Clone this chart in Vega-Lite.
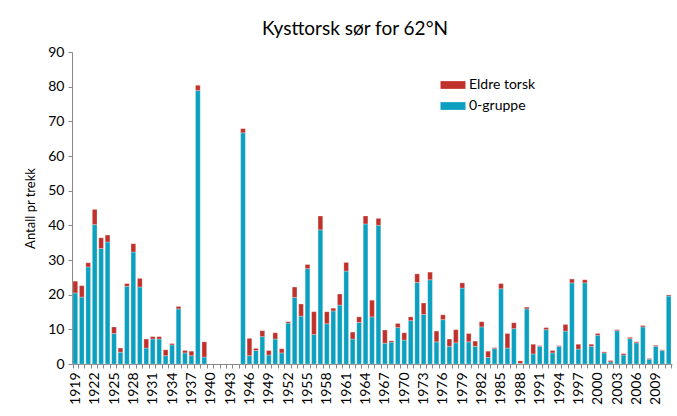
{
  "$schema": "https://vega.github.io/schema/vega-lite/v6.json",
  "autosize": {"type": "none"},
  "width": 600,
  "height": 312,
  "padding": {"left": 72, "top": 52, "right": 5, "bottom": 52},
  "background": "white",
  "title": {"text": "Kysttorsk sør for 62°N", "fontSize": 19, "font": "Lato", "fontWeight": "normal", "color": "#000000", "offset": 6, "dx": -17},
  "data": {"values": [
    {"year": 1919, "0-gruppe": 20.5, "Eldre torsk": 3.4},
    {"year": 1920, "0-gruppe": 19.3, "Eldre torsk": 3.3},
    {"year": 1921, "0-gruppe": 28.0, "Eldre torsk": 1.2},
    {"year": 1922, "0-gruppe": 40.2, "Eldre torsk": 4.4},
    {"year": 1923, "0-gruppe": 33.3, "Eldre torsk": 3.1},
    {"year": 1924, "0-gruppe": 35.2, "Eldre torsk": 2.0},
    {"year": 1925, "0-gruppe": 8.8, "Eldre torsk": 1.9},
    {"year": 1926, "0-gruppe": 3.4, "Eldre torsk": 1.2},
    {"year": 1927, "0-gruppe": 22.4, "Eldre torsk": 0.8},
    {"year": 1928, "0-gruppe": 32.3, "Eldre torsk": 2.4},
    {"year": 1929, "0-gruppe": 22.2, "Eldre torsk": 2.5},
    {"year": 1930, "0-gruppe": 4.6, "Eldre torsk": 2.6},
    {"year": 1931, "0-gruppe": 7.2, "Eldre torsk": 0.7},
    {"year": 1932, "0-gruppe": 7.2, "Eldre torsk": 0.7},
    {"year": 1933, "0-gruppe": 2.4, "Eldre torsk": 1.7},
    {"year": 1934, "0-gruppe": 5.5, "Eldre torsk": 0.4},
    {"year": 1935, "0-gruppe": 15.9, "Eldre torsk": 0.7},
    {"year": 1936, "0-gruppe": 3.2, "Eldre torsk": 0.7},
    {"year": 1937, "0-gruppe": 2.4, "Eldre torsk": 1.3},
    {"year": 1938, "0-gruppe": 78.9, "Eldre torsk": 1.5},
    {"year": 1939, "0-gruppe": 2.0, "Eldre torsk": 4.4},
    {"year": 1945, "0-gruppe": 66.7, "Eldre torsk": 1.2},
    {"year": 1946, "0-gruppe": 2.4, "Eldre torsk": 5.0},
    {"year": 1947, "0-gruppe": 3.9, "Eldre torsk": 0.6},
    {"year": 1948, "0-gruppe": 7.9, "Eldre torsk": 1.7},
    {"year": 1949, "0-gruppe": 2.6, "Eldre torsk": 1.3},
    {"year": 1950, "0-gruppe": 7.2, "Eldre torsk": 1.8},
    {"year": 1951, "0-gruppe": 3.2, "Eldre torsk": 1.2},
    {"year": 1952, "0-gruppe": 11.8, "Eldre torsk": 0.4},
    {"year": 1953, "0-gruppe": 19.2, "Eldre torsk": 3.0},
    {"year": 1954, "0-gruppe": 13.8, "Eldre torsk": 3.5},
    {"year": 1955, "0-gruppe": 27.5, "Eldre torsk": 1.2},
    {"year": 1956, "0-gruppe": 8.5, "Eldre torsk": 6.6},
    {"year": 1957, "0-gruppe": 38.7, "Eldre torsk": 4.0},
    {"year": 1958, "0-gruppe": 11.6, "Eldre torsk": 3.5},
    {"year": 1959, "0-gruppe": 15.3, "Eldre torsk": 0.8},
    {"year": 1960, "0-gruppe": 17.0, "Eldre torsk": 3.2},
    {"year": 1961, "0-gruppe": 26.8, "Eldre torsk": 2.5},
    {"year": 1962, "0-gruppe": 7.2, "Eldre torsk": 2.0},
    {"year": 1963, "0-gruppe": 12.0, "Eldre torsk": 1.6},
    {"year": 1964, "0-gruppe": 40.4, "Eldre torsk": 2.3},
    {"year": 1965, "0-gruppe": 13.6, "Eldre torsk": 4.8},
    {"year": 1966, "0-gruppe": 40.0, "Eldre torsk": 2.0},
    {"year": 1967, "0-gruppe": 6.0, "Eldre torsk": 3.8},
    {"year": 1968, "0-gruppe": 6.3, "Eldre torsk": 0.4},
    {"year": 1969, "0-gruppe": 10.5, "Eldre torsk": 1.2},
    {"year": 1970, "0-gruppe": 6.9, "Eldre torsk": 2.1},
    {"year": 1971, "0-gruppe": 12.5, "Eldre torsk": 1.1},
    {"year": 1972, "0-gruppe": 23.5, "Eldre torsk": 2.5},
    {"year": 1973, "0-gruppe": 14.3, "Eldre torsk": 3.3},
    {"year": 1974, "0-gruppe": 24.3, "Eldre torsk": 2.2},
    {"year": 1975, "0-gruppe": 6.4, "Eldre torsk": 3.1},
    {"year": 1976, "0-gruppe": 12.8, "Eldre torsk": 1.4},
    {"year": 1977, "0-gruppe": 5.1, "Eldre torsk": 2.1},
    {"year": 1978, "0-gruppe": 6.1, "Eldre torsk": 3.8},
    {"year": 1979, "0-gruppe": 21.9, "Eldre torsk": 1.5},
    {"year": 1980, "0-gruppe": 6.4, "Eldre torsk": 2.4},
    {"year": 1981, "0-gruppe": 5.1, "Eldre torsk": 1.5},
    {"year": 1982, "0-gruppe": 10.7, "Eldre torsk": 1.5},
    {"year": 1983, "0-gruppe": 1.9, "Eldre torsk": 1.8},
    {"year": 1984, "0-gruppe": 4.4, "Eldre torsk": 0.3},
    {"year": 1985, "0-gruppe": 21.7, "Eldre torsk": 1.5},
    {"year": 1986, "0-gruppe": 4.6, "Eldre torsk": 4.2},
    {"year": 1987, "0-gruppe": 10.2, "Eldre torsk": 1.7},
    {"year": 1988, "0-gruppe": 0.2, "Eldre torsk": 0.7},
    {"year": 1989, "0-gruppe": 15.9, "Eldre torsk": 0.5},
    {"year": 1990, "0-gruppe": 2.9, "Eldre torsk": 2.8},
    {"year": 1991, "0-gruppe": 5.1, "Eldre torsk": 0.2},
    {"year": 1992, "0-gruppe": 9.9, "Eldre torsk": 0.6},
    {"year": 1993, "0-gruppe": 3.2, "Eldre torsk": 0.7},
    {"year": 1994, "0-gruppe": 5.1, "Eldre torsk": 0.2},
    {"year": 1995, "0-gruppe": 9.5, "Eldre torsk": 1.9},
    {"year": 1996, "0-gruppe": 23.4, "Eldre torsk": 1.1},
    {"year": 1997, "0-gruppe": 4.3, "Eldre torsk": 1.4},
    {"year": 1998, "0-gruppe": 23.4, "Eldre torsk": 0.9},
    {"year": 1999, "0-gruppe": 5.1, "Eldre torsk": 0.6},
    {"year": 2000, "0-gruppe": 8.3, "Eldre torsk": 0.5},
    {"year": 2001, "0-gruppe": 3.2, "Eldre torsk": 0.3},
    {"year": 2002, "0-gruppe": 0.6, "Eldre torsk": 0.4},
    {"year": 2003, "0-gruppe": 9.6, "Eldre torsk": 0.3},
    {"year": 2004, "0-gruppe": 2.6, "Eldre torsk": 0.4},
    {"year": 2005, "0-gruppe": 7.3, "Eldre torsk": 0.4},
    {"year": 2006, "0-gruppe": 6.1, "Eldre torsk": 0.3},
    {"year": 2007, "0-gruppe": 10.7, "Eldre torsk": 0.4},
    {"year": 2008, "0-gruppe": 1.4, "Eldre torsk": 0.2},
    {"year": 2009, "0-gruppe": 5.1, "Eldre torsk": 0.3},
    {"year": 2010, "0-gruppe": 3.9, "Eldre torsk": 0.2},
    {"year": 2011, "0-gruppe": 19.6, "Eldre torsk": 0.3}
  ]},
  "transform": [{"fold": ["0-gruppe", "Eldre torsk"], "as": ["gruppe", "antall"]}],
  "mark": {"type": "bar", "stroke": "#ffffff", "strokeOpacity": 0.45, "strokeWidth": 0.6},
  "encoding": {
    "x": {
      "field": "year", "type": "ordinal",
      "scale": {"domain": [1919,1920,1921,1922,1923,1924,1925,1926,1927,1928,1929,1930,1931,1932,1933,1934,1935,1936,1937,1938,1939,1940,1941,1942,1943,1944,1945,1946,1947,1948,1949,1950,1951,1952,1953,1954,1955,1956,1957,1958,1959,1960,1961,1962,1963,1964,1965,1966,1967,1968,1969,1970,1971,1972,1973,1974,1975,1976,1977,1978,1979,1980,1981,1982,1983,1984,1985,1986,1987,1988,1989,1990,1991,1992,1993,1994,1995,1996,1997,1998,1999,2000,2001,2002,2003,2004,2005,2006,2007,2008,2009,2010,2011], "paddingInner": 0.27, "paddingOuter": 0.15},
      "axis": {
        "title": null,
        "labelAngle": 270,
        "labelAlign": "right",
        "labelBaseline": "middle",
        "labelFont": "Lato",
        "labelFontSize": 14,
        "labelColor": "#000000",
        "labelPadding": 4,
        "labelExpr": "(datum.value - 1919) % 3 == 0 ? datum.value : ''",
        "labelOverlap": false,
        "tickSize": 4,
        "tickColor": "#888888",
        "domainColor": "#888888",
        "tickBand": "extent"
      }
    },
    "y": {
      "field": "antall", "type": "quantitative", "stack": "zero",
      "scale": {"domain": [0, 90], "nice": false},
      "axis": {
        "title": "Antall pr trekk",
        "titleFont": "Lato",
        "titleFontSize": 13,
        "titleFontWeight": "normal",
        "titleColor": "#000000",
        "titlePadding": 10,
        "values": [0,10,20,30,40,50,60,70,80,90],
        "labelFont": "Lato",
        "labelFontSize": 14,
        "labelColor": "#000000",
        "labelPadding": 4,
        "tickSize": 4,
        "tickColor": "#888888",
        "domainColor": "#888888",
        "grid": false
      }
    },
    "order": {"field": "gruppe", "type": "nominal", "sort": "ascending"},
    "color": {
      "field": "gruppe", "type": "nominal",
      "scale": {"domain": ["Eldre torsk", "0-gruppe"], "range": ["#c0312b", "#0b9fc0"]},
      "legend": {
        "title": null,
        "orient": "none",
        "legendX": 368,
        "legendY": 26,
        "symbolType": "M-2,-0.62H2V0.62H-2Z",
        "symbolSize": 156,
        "symbolStrokeWidth": 0,
        "labelFont": "Lato",
        "labelFontSize": 14,
        "labelColor": "#000000",
        "labelOffset": 9,
        "rowPadding": 7,
        "symbolOffset": 6
      }
    }
  },
  "config": {"view": {"stroke": null}}
}
